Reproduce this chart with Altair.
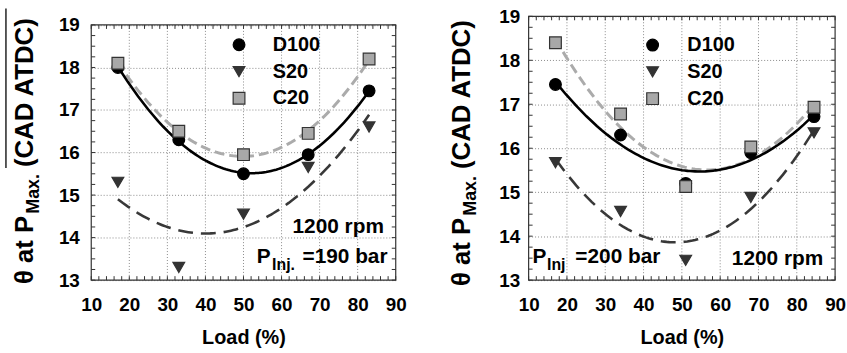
import altair as alt
import pandas as pd

FUELS = ["D100", "S20", "C20"]

# Left panel: 1200 rpm, P_inj = 190 bar
load_a = [17, 33, 50, 67, 83]
d100_a = [18.0, 16.3, 15.5, 15.95, 17.45]
s20_a = [15.3, 13.3, 14.55, 15.65, 16.6]
c20_a = [18.1, 16.5, 15.95, 16.45, 18.2]

# Right panel: 1200 rpm, P_inj = 200 bar
load_b = [17, 34, 51, 68, 84.5]
d100_b = [17.45, 16.3, 15.2, 15.9, 16.72]
s20_b = [15.67, 14.56, 13.45, 14.88, 16.35]
c20_b = [18.4, 16.78, 15.13, 16.03, 16.93]

x_major = [10, 20, 30, 40, 50, 60, 70, 80, 90]
y_major = [13, 14, 15, 16, 17, 18, 19]
x_minor = list(range(10, 91, 2))
y_minor = [13 + i / 4 for i in range(25)]

FONT = "Liberation Sans"
FRAME = "#333333"
GRID = "#8a8a8a"
TL = 4
ONE = pd.DataFrame({"a": [0]})

LINE_STYLES = [
    ("S20", "#383838", [15, 8], 2.6),
    ("C20", "#ababab", [10, 5], 3.0),
    ("D100", "#000000", None, 2.6),
]


def vtext(x, y, s, size, align):
    return alt.Chart(ONE).mark_text(text=s, angle=270, align=align, baseline="alphabetic",
                                    font=FONT, fontSize=size, fontWeight="bold",
                                    color="black").encode(x=alt.value(x), y=alt.value(y))


def panel(load, d100, s20, c20, W, H, top, leg, ylabpad, notes, titles, overline):
    rows = []
    for f, vals in zip(FUELS, [d100, s20, c20]):
        for l, v in zip(load, vals):
            rows.append({"load": l, "theta": v, "fuel": f})
    df = pd.DataFrame(rows)
    xs = alt.Scale(domain=[10, 90], nice=False, zero=False)
    ys = alt.Scale(domain=[13, 19], nice=False, zero=False, range=[H, top])
    ax = alt.Axis(values=x_major, title="Load (%)", grid=False, ticks=False, domain=False,
                  labelFont=FONT, labelFontSize=19, labelFontWeight="bold", labelColor="black",
                  labelPadding=16, labelFlush=False, titleFont=FONT, titleFontSize=20,
                  titleFontWeight="bold", titleColor="black", titlePadding=13)
    ay = alt.Axis(values=y_major, title=None, grid=True, ticks=False, domain=False,
                  labelFont=FONT, labelFontSize=19, labelFontWeight="bold", labelColor="black",
                  labelPadding=ylabpad, gridColor=GRID, gridDash=[1, 2], gridWidth=1)
    X = alt.X("load:Q", scale=xs, axis=ax)
    Y = alt.Y("theta:Q", scale=ys, axis=ay)
    layers = []
    # vertical grid lines (only inside the frame)
    layers.append(alt.Chart(pd.DataFrame({"load": x_major[1:-1]})).mark_rule(
        color=GRID, strokeDash=[1, 2], strokeWidth=1).encode(
        x=X, y=alt.value(top), y2=alt.value(H)))
    # inward ticks on all four sides
    xt = pd.DataFrame({"load": x_minor})
    yt = pd.DataFrame({"theta": y_minor})
    for y1, y2 in [(top, top + TL), (H, H - TL)]:
        layers.append(alt.Chart(xt).mark_rule(color=FRAME, strokeWidth=1).encode(
            x=X, y=alt.value(y1), y2=alt.value(y2)))
    for x1, x2 in [(0, TL), (W, W - TL)]:
        layers.append(alt.Chart(yt).mark_rule(color=FRAME, strokeWidth=1).encode(
            y=Y, x=alt.value(x1), x2=alt.value(x2)))
    # fitted curves
    for f, col, dash, sw in LINE_STYLES:
        kw = dict(color=col, strokeWidth=sw)
        if dash:
            kw["strokeDash"] = dash
        layers.append(alt.Chart(df).transform_filter(alt.datum.fuel == f)
                      .transform_regression("load", "theta", method="poly", order=2)
                      .mark_line(**kw).encode(x=X, y=Y))
    legend = alt.Legend(orient="none", legendX=leg[0], legendY=leg[1], title=None,
                        labelFont=FONT, labelFontSize=20, labelFontWeight="bold",
                        labelColor="black", labelOffset=leg[2], rowPadding=7,
                        symbolSize=140, symbolStrokeWidth=1.2, padding=0,
                        direction="vertical")
    layers.append(alt.Chart(df).mark_point(filled=True, size=140, opacity=1, strokeWidth=1.2).encode(
        x=X, y=Y,
        shape=alt.Shape("fuel:N", scale=alt.Scale(domain=FUELS, range=["circle", "triangle-down", "square"]), legend=legend),
        fill=alt.Fill("fuel:N", scale=alt.Scale(domain=FUELS, range=["#000000", "#333333", "#a8a8a8"]), legend=legend),
        stroke=alt.Stroke("fuel:N", scale=alt.Scale(domain=FUELS, range=["#000000", "#333333", "#333333"]), legend=legend),
    ))
    for (x, y, s, size, align) in notes:
        layers.append(alt.Chart(pd.DataFrame({"load": [x], "theta": [y]})).mark_text(
            text=s, align=align, baseline="alphabetic", font=FONT, fontSize=size,
            fontWeight="bold", color="black").encode(x=X, y=Y))
    for (x, y, s, size, align) in titles:
        layers.append(vtext(x, y, s, size, align))
    if overline:
        layers.append(alt.Chart(ONE).mark_rule(color="black", strokeWidth=1.3).encode(
            x=alt.value(overline[0]), y=alt.value(overline[1]), y2=alt.value(overline[2])))
    # frame
    layers.append(alt.Chart(ONE).mark_rect(fillOpacity=0, stroke=FRAME, strokeWidth=1.2).encode(
        x=alt.value(0), x2=alt.value(W), y=alt.value(top), y2=alt.value(H)))
    # invisible guard fixing the top of the panel's bounding box
    layers.append(alt.Chart(ONE).mark_rule(strokeOpacity=0, strokeWidth=1).encode(
        x=alt.value(0), y=alt.value(-12), y2=alt.value(-11)))
    return alt.layer(*layers).properties(width=W, height=H)


left = panel(load_a, d100_a, s20_a, c20_a, 307, 266, 8.7, (139, 18.7, 24), 12,
             [(86.9, 14.1, "1200 rpm", 21, "right"),
              (53.5, 13.4, "P", 21, "left"),
              (57.5, 13.23, "Inj.", 16, "left"),
              (65.5, 13.4, "=190 bar", 21, "left")],
             [(-59, 270, "θ at P", 26, "left"),
              (-53, 199, "Max.", 18, "left"),
              (-59, 152, "(CAD ATDC)", 26, "left")],
             (-86, -8, 153))

right = panel(load_b, d100_b, s20_b, c20_b, 309, 266, 0, (115, 19, 25), 9,
              [(86.9, 13.34, "1200 rpm", 21, "right"),
               (11.0, 13.38, "P", 21, "left"),
               (14.8, 13.22, "Inj", 16, "left"),
               (22.2, 13.38, "=200 bar", 21, "left")],
              [(-59, 272, "θ at P", 26, "left"),
               (-53, 201, "Max.", 18, "left"),
               (-59, 154, "(CAD ATDC)", 26, "left")],
              None)

chart = alt.hconcat(left, right, spacing=41).resolve_scale(
    shape="independent", fill="independent", stroke="independent"
).resolve_legend(
    shape="independent", fill="independent", stroke="independent"
).properties(
    padding={"left": 4, "top": 2, "right": 0, "bottom": 0},
    background="white",
).configure_view(stroke="transparent")

chart.save("out.html", embed_options={"renderer": "svg", "actions": False})
